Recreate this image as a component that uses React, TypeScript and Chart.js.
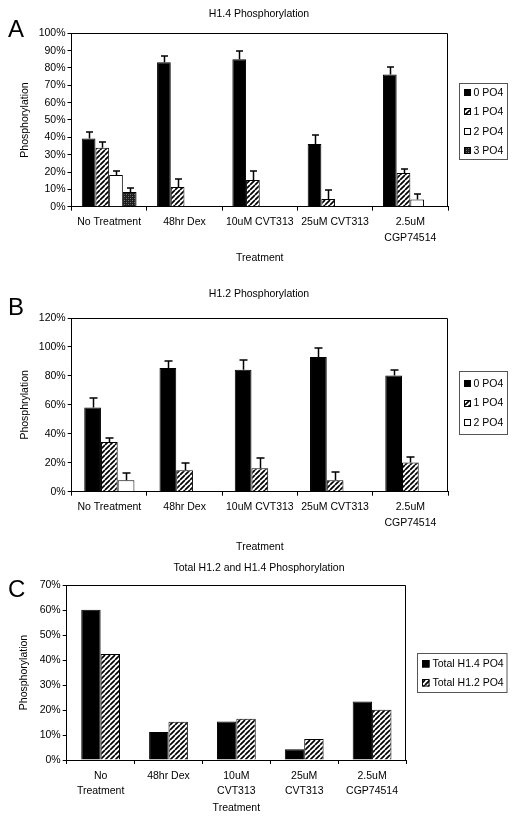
import React, { useEffect, useRef } from "react";
import { Chart, registerables } from "chart.js";
Chart.register(...registerables);

const FONT = "'Liberation Sans', Arial, Helvetica, sans-serif";

// ---------- data ----------
const categoriesAB: (string | string[])[] = ["No Treatment", "48hr Dex", "10uM CVT313", "25uM CVT313", ["2.5uM", "CGP74514"]];
const categoriesC: (string | string[])[] = [["No", "Treatment"], "48hr Dex", ["10uM", "CVT313"], ["25uM", "CVT313"], ["2.5uM", "CGP74514"]];

const seriesLabelsA = ["0 PO4", "1 PO4", "2 PO4", "3 PO4"];
const h14Zero = [39.4, 83.3, 85.0, 36.2, 76.3];
const h14ZeroErr = [3.9, 3.8, 5.0, 5.1, 4.5];
const h14One = [34.0, 11.3, 15.4, 4.4, 19.4];
const h14OneErr = [3.5, 4.5, 5.2, 5.0, 2.1];
const h14Two = [18.3, 0, 0, 0, 4.2];
const h14TwoErr = [2.3, 0, 0, 0, 3.1];
const h14Three = [8.5, 0, 0, 0, 0];
const h14ThreeErr = [2.1, 0, 0, 0, 0];

const seriesLabelsB = ["0 PO4", "1 PO4", "2 PO4"];
const h12Zero = [58.2, 85.4, 84.2, 93.0, 80.3];
const h12ZeroErr = [6.5, 4.9, 6.8, 6.0, 3.5];
const h12One = [34.3, 14.8, 16.2, 7.9, 20.2];
const h12OneErr = [2.8, 4.7, 7.0, 5.8, 3.7];
const h12Two = [7.9, 0, 0, 0, 0];
const h12TwoErr = [5.3, 0, 0, 0, 0];

const seriesLabelsC = ["Total H1.4 PO4", "Total H1.2 PO4"];
const totalH14 = [60.1, 11.2, 15.4, 4.3, 23.4];
const totalH12 = [42.4, 15.3, 16.5, 8.4, 20.1];

const titleA = "H1.4 Phosphorylation";
const titleB = "H1.2 Phosphorylation";
const titleC = "Total H1.2 and H1.4 Phosphorylation";
const yTitleA = "Phosphorylation";
const yTitleB = "Phosphrylation";
const yTitleC = "Phosphorylation";
const xTitle = "Treatment";
const yMaxA = 100, yStepA = 10;
const yMaxB = 120, yStepB = 20;
const yMaxC = 70, yStepC = 10;

// ---------- patterns ----------
function makeHatch(): CanvasPattern | string {
  const c = document.createElement("canvas");
  const s = 5;
  c.width = s;
  c.height = s;
  const g = c.getContext("2d");
  if (!g) return "#888";
  g.fillStyle = "#fff";
  g.fillRect(0, 0, s, s);
  g.strokeStyle = "#000";
  g.lineWidth = 1.7;
  g.beginPath();
  for (const o of [-s, 0, s]) {
    g.moveTo(o, s);
    g.lineTo(o + s, 0);
  }
  g.stroke();
  return g.createPattern(c, "repeat") || "#888";
}

function makeStipple(): CanvasPattern | string {
  const c = document.createElement("canvas");
  c.width = 4;
  c.height = 4;
  const g = c.getContext("2d");
  if (!g) return "#333";
  g.fillStyle = "#1c1c1c";
  g.fillRect(0, 0, 4, 4);
  g.fillStyle = "#7a7a7a";
  g.fillRect(0, 0, 1, 1);
  g.fillRect(2, 2, 1, 1);
  g.fillStyle = "#4a4a4a";
  g.fillRect(2, 0, 1, 1);
  g.fillRect(0, 2, 1, 1);
  return g.createPattern(c, "repeat") || "#333";
}

// ---------- plugins ----------
const errorBarsPlugin = {
  id: "errorBars",
  afterDatasetsDraw(chart: any, _args: any, opts: any) {
    const { ctx } = chart;
    const yScale = chart.scales.y;
    const cap = (opts && opts.capWidth) || 7;
    ctx.save();
    ctx.strokeStyle = "#000";
    ctx.lineWidth = 1.5;
    chart.data.datasets.forEach((ds: any, i: number) => {
      const errs: number[] | undefined = ds.errorPlus;
      if (!errs) return;
      const meta = chart.getDatasetMeta(i);
      meta.data.forEach((bar: any, j: number) => {
        const v = ds.data[j];
        const e = errs[j];
        if (!v || !e) return;
        const x = Math.round(bar.x) + 0.5;
        const y0 = yScale.getPixelForValue(v);
        const y1 = Math.round(yScale.getPixelForValue(v + e));
        ctx.beginPath();
        ctx.moveTo(x, y0);
        ctx.lineTo(x, y1);
        ctx.moveTo(x - cap / 2, y1);
        ctx.lineTo(x + cap / 2, y1);
        ctx.stroke();
      });
    });
    ctx.restore();
  },
};

const framePlugin = {
  id: "frame",
  afterDraw(chart: any) {
    const { ctx, chartArea } = chart;
    const l = Math.round(chartArea.left);
    const t = Math.round(chartArea.top) + 0.5;
    const r = Math.round(chartArea.right) - 0.5;
    const b = Math.round(chartArea.bottom);
    ctx.save();
    ctx.strokeStyle = "#000";
    ctx.lineWidth = 1;
    ctx.beginPath();
    ctx.moveTo(l, t);
    ctx.lineTo(r, t);
    ctx.lineTo(r, b);
    ctx.stroke();
    ctx.restore();
  },
};

const boxLegendPlugin = {
  id: "boxLegend",
  afterDraw(chart: any, _args: any, opts: any) {
    if (!opts || !opts.show) return;
    const { ctx, chartArea } = chart;
    const ds = chart.data.datasets;
    const n = ds.length;
    const left = Math.round(chartArea.right + opts.gap) + 0.5;
    const top = Math.round((chartArea.top + chartArea.bottom) / 2 - opts.height / 2 + opts.dy) + 0.5;
    ctx.save();
    ctx.fillStyle = "#fff";
    ctx.fillRect(left, top, opts.width, opts.height);
    ctx.strokeStyle = "#555";
    ctx.lineWidth = 1;
    ctx.strokeRect(left, top, opts.width, opts.height);
    const first = top + (opts.height - (n - 1) * opts.rowH) / 2;
    const s = opts.marker;
    ctx.font = `10.5px ${FONT}`;
    ctx.textBaseline = "middle";
    ctx.textAlign = "left";
    ds.forEach((d: any, i: number) => {
      const cy = first + i * opts.rowH;
      const mx = Math.round(left + opts.markerX);
      const my = Math.round(cy - s / 2);
      ctx.fillStyle = d.backgroundColor;
      ctx.fillRect(mx, my, s, s);
      ctx.strokeStyle = "#000";
      ctx.strokeRect(mx + 0.5, my + 0.5, s - 1, s - 1);
      ctx.fillStyle = "#000";
      ctx.fillText(d.label, left + opts.textX, cy + 0.5);
    });
    ctx.restore();
  },
};

// ---------- config builder ----------
interface Layout {
  yAxisW: number;
  rightW: number;
  xAxisH: number;
  titlePadTop: number;
  titlePadBottom: number;
  xTitlePadBottom: number;
  tickLineH: number;
  tickPad: number;
  yTitlePad: number;
  capWidth: number;
  legend: { gap: number; width: number; height: number; dy: number; rowH: number; marker: number; markerX: number; textX: number };
}

function font(size: number, lineHeight = 1.2) {
  return { family: FONT, size, weight: "normal" as const, lineHeight };
}

function buildConfig(
  title: string,
  yTitle: string,
  labels: (string | string[])[],
  datasets: any[],
  yMax: number,
  yStep: number,
  L: Layout,
  categoryPercentage: number
): any {
  return {
    type: "bar",
    data: {
      labels,
      datasets: datasets.map((d) => ({
        ...d,
        borderColor: "#000",
        borderWidth: 1,
        barPercentage: 1,
        categoryPercentage,
      })),
    },
    plugins: [errorBarsPlugin, framePlugin, boxLegendPlugin],
    options: {
      responsive: false,
      animation: false,
      devicePixelRatio: 1,
      layout: { padding: 0 },
      events: [],
      plugins: {
        legend: { display: false },
        tooltip: { enabled: false },
        title: {
          display: true,
          text: title,
          color: "#000",
          font: font(10.5),
          fullSize: true,
          padding: { top: L.titlePadTop, bottom: L.titlePadBottom },
        },
        errorBars: { capWidth: L.capWidth },
        boxLegend: { show: true, ...L.legend },
      },
      scales: {
        x: {
          type: "category",
          offset: true,
          grid: { offset: true, drawOnChartArea: false, drawTicks: true, tickLength: 4, color: "#000", lineWidth: 1 },
          border: { display: true, color: "#000", width: 1 },
          ticks: {
            color: "#000",
            font: font(10.5, L.tickLineH / 10.5),
            padding: L.tickPad,
            maxRotation: 0,
            minRotation: 0,
            autoSkip: false,
          },
          title: {
            display: true,
            text: xTitle,
            color: "#000",
            font: font(10.5),
            padding: { top: 0, bottom: L.xTitlePadBottom },
          },
          afterFit: (s: any) => {
            s.height = L.xAxisH;
          },
        },
        y: {
          type: "linear",
          position: "left",
          min: 0,
          max: yMax,
          ticks: {
            stepSize: yStep,
            color: "#000",
            font: font(10.5),
            padding: 2,
            callback: (v: any) => `${v}%`,
          },
          grid: { drawOnChartArea: false, drawTicks: true, tickLength: 4, color: "#000", lineWidth: 1 },
          border: { display: true, color: "#000", width: 1 },
          title: {
            display: true,
            text: yTitle,
            color: "#000",
            font: font(10.5),
            padding: { top: L.yTitlePad, bottom: 0 },
          },
          afterFit: (s: any) => {
            s.width = L.yAxisW;
          },
        },
        yPad: {
          type: "linear",
          position: "right",
          display: true,
          grid: { display: false },
          border: { display: false },
          ticks: { display: false },
          afterFit: (s: any) => {
            s.width = L.rightW;
          },
        },
      },
    },
  };
}

// ---------- components ----------
function PanelChart({ top, height, make }: { top: number; height: number; make: () => any }) {
  const ref = useRef<HTMLCanvasElement | null>(null);
  useEffect(() => {
    if (!ref.current) return;
    const chart = new Chart(ref.current, make());
    return () => chart.destroy();
  }, []);
  return (
    <canvas
      ref={ref}
      width={518}
      height={height}
      style={{ position: "absolute", left: 0, top, width: 518, height, display: "block" }}
    />
  );
}

const letterStyle = (top: number): React.CSSProperties => ({
  position: "absolute",
  left: 8,
  top,
  fontFamily: FONT,
  fontSize: 24,
  lineHeight: "24px",
  color: "#000",
});

export default function App() {
  const makeA = () => {
    const hatch = makeHatch();
    const stipple = makeStipple();
    const datasets = [
      { label: seriesLabelsA[0], data: h14Zero, errorPlus: h14ZeroErr, backgroundColor: "#000" },
      { label: seriesLabelsA[1], data: h14One, errorPlus: h14OneErr, backgroundColor: hatch },
      { label: seriesLabelsA[2], data: h14Two, errorPlus: h14TwoErr, backgroundColor: "#fff" },
      { label: seriesLabelsA[3], data: h14Three, errorPlus: h14ThreeErr, backgroundColor: stipple },
    ];
    return buildConfig(titleA, yTitleA, categoriesAB, datasets, yMaxA, yStepA, {
      yAxisW: 71.5,
      rightW: 70,
      xAxisH: 63.3,
      titlePadTop: 7.7,
      titlePadBottom: 13,
      xTitlePadBottom: 5.7,
      tickLineH: 16,
      tickPad: 3.6,
      yTitlePad: 18.7,
      capWidth: 7,
      legend: { gap: 11, width: 48, height: 76, dy: 1, rowH: 19.3, marker: 7, markerX: 4.5, textX: 14 },
    }, 4 / 5.5);
  };

  const makeB = () => {
    const hatch = makeHatch();
    const datasets = [
      { label: seriesLabelsB[0], data: h12Zero, errorPlus: h12ZeroErr, backgroundColor: "#000" },
      { label: seriesLabelsB[1], data: h12One, errorPlus: h12OneErr, backgroundColor: hatch },
      { label: seriesLabelsB[2], data: h12Two, errorPlus: h12TwoErr, backgroundColor: "#fff" },
    ];
    return buildConfig(titleB, yTitleB, categoriesAB, datasets, yMaxB, yStepB, {
      yAxisW: 71.7,
      rightW: 70,
      xAxisH: 63.3,
      titlePadTop: 7.7,
      titlePadBottom: 17.7,
      xTitlePadBottom: 1.4,
      tickLineH: 16,
      tickPad: 3.6,
      yTitlePad: 18.7,
      capWidth: 8,
      legend: { gap: 11, width: 48, height: 63, dy: -2, rowH: 19.3, marker: 7, markerX: 4.5, textX: 14 },
    }, 3 / 4.5);
  };

  const makeC = () => {
    const hatch = makeHatch();
    const datasets = [
      { label: seriesLabelsC[0], data: totalH14, backgroundColor: "#000" },
      { label: seriesLabelsC[1], data: totalH12, backgroundColor: hatch },
    ];
    return buildConfig(titleC, yTitleC, categoriesC, datasets, yMaxC, yStepC, {
      yAxisW: 66.7,
      rightW: 112,
      xAxisH: 60,
      titlePadTop: 7,
      titlePadBottom: 10.4,
      xTitlePadBottom: 6,
      tickLineH: 15.3,
      tickPad: 4,
      yTitlePad: 17.7,
      capWidth: 8,
      legend: { gap: 10.7, width: 89.5, height: 39, dy: 0, rowH: 19.3, marker: 7.5, markerX: 4, textX: 15 },
    }, 2 / 3.5);
  };

  return (
    <div style={{ position: "absolute", left: 0, top: 0, width: 518, height: 820, background: "#fff", overflow: "hidden" }}>
      <PanelChart top={0} height={270} make={makeA} />
      <PanelChart top={280} height={275} make={makeB} />
      <PanelChart top={555} height={265} make={makeC} />
      <div style={letterStyle(17)}>A</div>
      <div style={letterStyle(295)}>B</div>
      <div style={letterStyle(577)}>C</div>
    </div>
  );
}
